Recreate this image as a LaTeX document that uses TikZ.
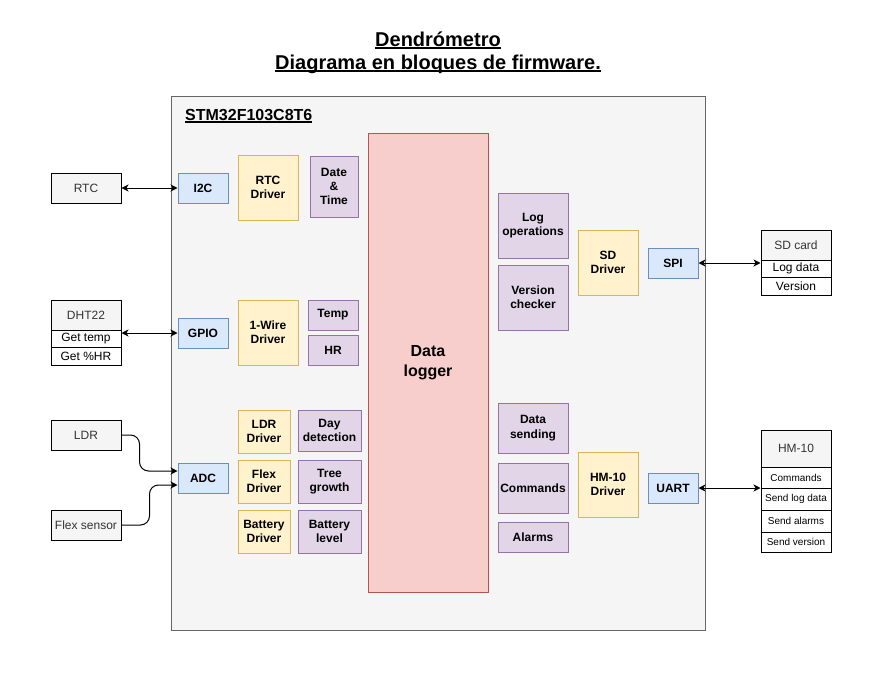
\documentclass[tikz,border=0pt]{standalone}
\usepackage{fontspec}
\setmainfont{Liberation Sans}
\usetikzlibrary{arrows.meta,calc}
\definecolor{ifacefill}{HTML}{DAE8FC}
\definecolor{ifacedraw}{HTML}{6C8EBF}
\definecolor{drvfill}{HTML}{FFF2CC}
\definecolor{drvdraw}{HTML}{D6B656}
\definecolor{appfill}{HTML}{E1D5E7}
\definecolor{appdraw}{HTML}{9673A6}
\definecolor{logfill}{HTML}{F8CECC}
\definecolor{logdraw}{HTML}{B85450}
\definecolor{grayfill}{HTML}{F5F5F5}
\definecolor{graydraw}{HTML}{666666}
\definecolor{graytext}{HTML}{333333}
\newsavebox\undlbox
\newcommand{\undl}[2]{\sbox\undlbox{#2}\rlap{\rule[-2pt]{\wd\undlbox}{#1}}\usebox\undlbox}
\def\blk[#1](#2)(#3:#4:#5:#6)#7{\node[#1, minimum width={#5-#3}, minimum height={#6-#4}] (#2) at ({(#3+#5)/2},{(#4+#6)/2}) {#7};}
\tikzset{
  blkbox/.style={draw, line width=1pt, inner sep=0pt, align=center, font=\fontsize{12}{14.4}\selectfont\bfseries},
  iface/.style={blkbox, fill=ifacefill, draw=ifacedraw},
  drv/.style={blkbox, fill=drvfill, draw=drvdraw},
  app/.style={blkbox, fill=appfill, draw=appdraw},
  extbox/.style={blkbox, fill=grayfill, draw=black, text=graytext, font=\fontsize{12}{14.4}\selectfont},
  item/.style={blkbox, fill=white, draw=black, font=\fontsize{12}{14.4}\selectfont},
  smallitem/.style={item, font=\fontsize{10}{12}\selectfont},
  conn/.style={line width=1pt, >={Stealth[length=7pt,width=7pt,inset=2pt]}}
}
\begin{document}
\begin{tikzpicture}[x=1pt, y=-1pt]
			%%%%% START %%%%%
			\useasboundingbox (0,0) rectangle (884,680);
			
			\node[align=center, font=\fontsize{20}{23}\selectfont\bfseries] (title) at (438,53) {\undl{1.5pt}{Dendrómetro}\\\undl{1.5pt}{Diagrama en bloques de firmware.}};
			
			\blk[blkbox, fill=grayfill, draw=graydraw](stm)(171:96:705:630){}
			\node[anchor=west, inner sep=0pt, font=\fontsize{16}{19}\selectfont\bfseries] (stmlabel) at (185,116) {\undl{1.2pt}{STM32F103C8T6}};
			\blk[blkbox, fill=logfill, draw=logdraw, font=\fontsize{16}{19.5}\selectfont\bfseries](dlog)(368:133:488:592){Data\\logger}
			
			% RTC
			\blk[extbox](rtc)(51:173:121:203){RTC}
			\blk[iface](i2c)(178:173:228:203){I2C}
			\blk[drv](rtcdrv)(238:155:298:220){RTC\\Driver}
			\blk[app](datetime)(310:156:358:217){Date\\\&\\Time}
			
			% DHT22
			\blk[extbox](dht)(51:300:121:330){DHT22}
			\blk[item](dhttemp)(51:330:121:347){Get temp}
			\blk[item](dhthr)(51:347:121:365){Get \%HR}
			\blk[iface](gpio)(178:318:228:348){GPIO}
			\blk[drv](owdrv)(238:300:298:365){1-Wire\\Driver}
			\blk[app](temp)(308:300:358:330){Temp}
			\blk[app](hr)(308:335:358:365){HR}
			
			% analog inputs
			\blk[extbox](ldr)(51:420:121:450){LDR}
			\blk[extbox](flex)(51:510:121:540){Flex sensor}
			\blk[iface](adc)(178:463:228:493){ADC}
			\blk[drv](ldrdrv)(238:410:290:453){LDR\\Driver}
			\blk[app](daydet)(298:410:361:451){Day\\detection}
			\blk[drv](flexdrv)(238:460:290:503){Flex\\Driver}
			\blk[app](tree)(298:460:361:503){Tree\\growth}
			\blk[drv](batdrv)(238:510:290:553){Battery\\Driver}
			\blk[app](batlvl)(298:510:361:553){Battery\\level}
			
			% SD card
			\blk[app](logop)(498:193:568:258){Log\\operations}
			\blk[app](verchk)(498:265:568:330){Version\\checker}
			\blk[drv](sddrv)(578:230:638:295){SD\\Driver}
			\blk[iface](spi)(648:248:698:278){SPI}
			\blk[extbox](sd)(761:230:831:260){SD card}
			\blk[item](sdlog)(761:260:831:277){Log data}
			\blk[item](sdver)(761:277:831:295){Version}
			
			% HM-10
			\blk[app](datasend)(498:403:568:453){Data\\sending}
			\blk[app](cmds)(498:463:568:513){Commands}
			\blk[app](alarms)(498:522:568:552){Alarms}
			\blk[drv](hmdrv)(578:452:638:517){HM-10\\Driver}
			\blk[iface](uart)(648:473:698:503){UART}
			\blk[extbox](hm)(761:430:831:467){HM-10}
			\blk[smallitem](hmcmd)(761:467:831:488){Commands}
			\blk[smallitem](hmlog)(761:488:831:510){Send log data}
			\blk[smallitem](hmalm)(761:510:831:532){Send alarms}
			\blk[smallitem](hmver)(761:532:831:552){Send version}
			
			% connections
			\draw[conn, <->] (rtc.east) -- (i2c.west);
			\draw[conn, <->] (gpio.west -| dht.east) -- (gpio.west);
			\coordinate (adcin1) at ([yshift=7pt]adc.west);
			\coordinate (adcin2) at ([yshift=-7pt]adc.west);
			\draw[conn, ->, rounded corners=9pt] (ldr.east) -| ([xshift=-38pt]adcin1) -- (adcin1);
			\draw[conn, ->, rounded corners=9pt] (flex.east) -| ([xshift=-28pt]adcin2) -- (adcin2);
			\draw[conn, <->] (spi.east) -- (spi.east -| sd.west);
			\draw[conn, <->] (uart.east) -- (uart.east -| hm.west);
			
			%%%%% END %%%%%
\end{tikzpicture}
\end{document}
